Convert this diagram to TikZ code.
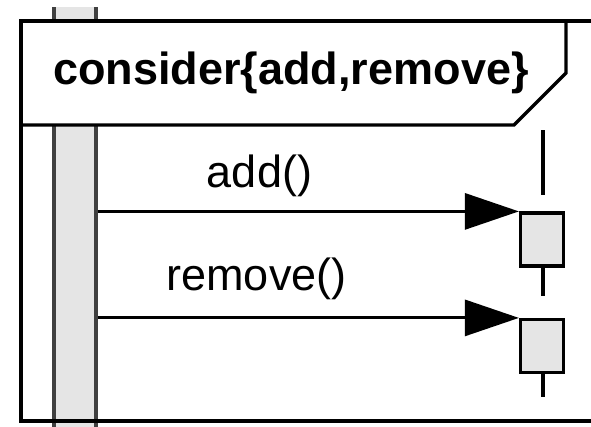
\documentclass[tikz,border=0pt]{standalone}
\usepackage{fontspec}
\setmainfont{Liberation Sans}
\usetikzlibrary{arrows.meta}

\begin{document}
\begin{tikzpicture}[
  x=1pt, y=-1pt,
  font=\fontsize{45}{54}\selectfont,
  >={Triangle[length=54pt,width=36pt]},
  frm/.style={draw=black, line width=3.2pt},
  bar/.style={draw=black!75, fill=gray!20, line width=3.2pt, minimum width=42pt, inner sep=0pt},
  act/.style={draw=black, fill=gray!20, line width=3.2pt, minimum width=43pt, minimum height=53pt, inner sep=0pt},
  life/.style={draw=black, line width=3.2pt},
  msg/.style={->, line width=3pt},
  lbl/.style={anchor=base, inner sep=0pt},
]
\useasboundingbox (0,0) rectangle (591,426);
\clip (0,7) rectangle (591,426);

% Caller lifeline (activation bar)
\node[bar, minimum height=460pt] (bar) at (75,230) {};

% Fragment header and frame
\draw[frm, fill=white] (21,21) -- (566,21) -- (566,73) -- (514,125) -- (21,125);
\node[lbl, font=\fontsize{45}{54}\selectfont\bfseries] (title) at (291,84) {consider\{add,remove\}};
\draw[frm] (21,21) rectangle (620,421);

% Callee lifeline with activations
\coordinate (lltop) at (543,130);
\coordinate (llend) at (543,195);
\node[act] (add) at (542,239.5) {};
\node[act] (rem) at (542,346) {};
\draw[life] (lltop) -- (llend);
\draw[life] (add.south -| lltop) -- ++(0,28);
\draw[life] (rem.south -| lltop) -- ++(0,23);

% Messages
\draw[msg] (bar.east |- add.north west) -- (add.north west);
\node[lbl] (addlbl) at (259.5,187) {add()};
\draw[msg] (bar.east |- rem.north west) -- (rem.north west);
\node[lbl] (remlbl) at (256.5,290) {remove()};

\end{tikzpicture}
\end{document}
